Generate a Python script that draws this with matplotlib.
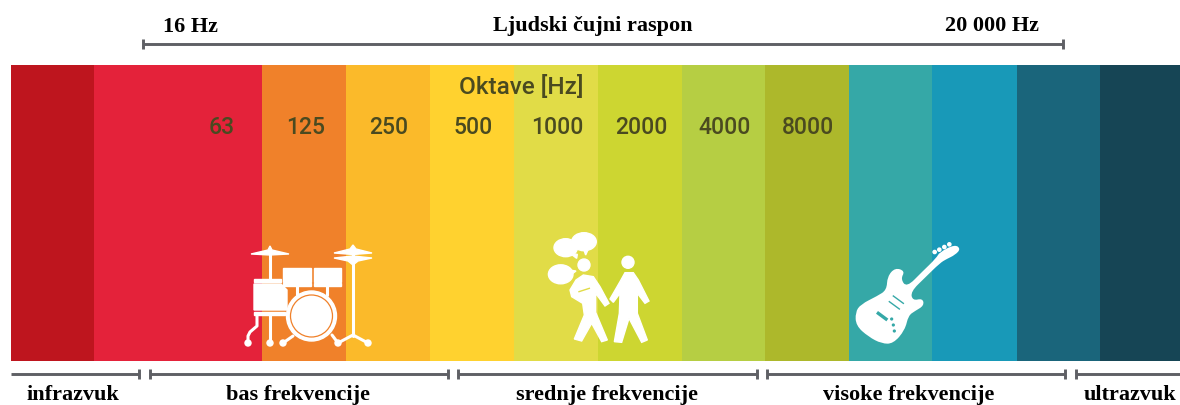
"""
plot.py

Frequency bands of sound, from infrasound to ultrasound.
"""

import matplotlib
matplotlib.use("Agg")
import matplotlib.pyplot as plt
from matplotlib.patches import Circle, Ellipse, PathPatch, Polygon, Rectangle
from matplotlib.path import Path

# edges of the coloured bands, in picture pixels
BAND_EDGES = [10.5, 94, 262, 345.5, 429.5, 514, 598, 681.5, 764.5, 848.5, 932, 1016.5, 1100, 1180]
BAND_COLORS = ["#BE151E", "#E4223A", "#F0812A", "#FBBA2A", "#FFD22F", "#E1DC47", "#CDD631",
               "#B6CE43", "#ADB82B", "#35A8A7", "#1899B8", "#1A657B", "#164555"]

OCTAVE_LABELS = ["63", "125", "250", "500", "1000", "2000", "4000", "8000"]
OCTAVE_X = [222, 306, 389, 473, 557, 641, 725, 808]

RANGE_NAMES = ["infrazvuk", "bas frekvencije", "srednje frekvencije", "visoke frekvencije", "ultrazvuk"]
RANGE_STARTS = [11, 150, 458, 767, 1076]
RANGE_ENDS = [139, 448, 757, 1065, 1180]
RANGE_TEXT_X = [73, 298, 607, 909, 1130]

GREY = "#5F6065"
SERIF = "Liberation Serif"
INK = "#4A4A20"


def hline(ax, x0, x1, y, left=True, right=True):
    ax.plot([x0, x1], [y, y], color=GREY, lw=2.1, solid_capstyle="butt")
    if left:
        ax.plot([x0, x0], [y - 5, y + 5], color=GREY, lw=2.1, solid_capstyle="butt")
    if right:
        ax.plot([x1, x1], [y - 5, y + 5], color=GREY, lw=2.1, solid_capstyle="butt")


def white_line(ax, xs, ys, lw=2.2):
    ax.plot(xs, ys, color="white", lw=lw, solid_capstyle="round", solid_joinstyle="round", zorder=4)


def draw_drums(ax):
    # cymbals
    ax.add_patch(Polygon([(251, 254), (268, 250), (270, 246), (272, 250), (289, 254), (270, 255)], color="white", zorder=4))
    ax.add_patch(Polygon([(334, 253), (350, 249), (353, 245), (356, 249), (372, 253), (353, 254.5)], color="white", zorder=4))
    ax.add_patch(Polygon([(334, 258), (353, 256), (372, 258), (358, 261), (353, 265), (348, 261)], color="white", zorder=4))
    white_line(ax, [270, 270], [250, 279])
    white_line(ax, [353, 353], [250, 336])
    white_line(ax, [338, 353, 368], [343, 335, 343])
    # floor tom
    ax.add_patch(Rectangle((254, 279), 27, 3, color="white", zorder=4))
    ax.add_patch(Polygon([(254, 284), (281, 284), (287, 290), (287, 310), (254, 310)], color="white", zorder=4))
    ax.add_patch(Rectangle((254, 311.5), 31, 3.5, color="white", zorder=4))
    # rack toms
    for x in [283, 313.5]:
        ax.add_patch(Rectangle((x, 268), 27.7, 13.5, color="white", zorder=4))
        ax.add_patch(Rectangle((x, 283), 27.7, 2.8, color="white", zorder=4))
    white_line(ax, [296.5, 296.5], [286, 295])
    white_line(ax, [326.5, 326.5], [286, 295])
    # bass drum
    ax.add_patch(Circle((311.5, 316), 25, color="white", zorder=4))
    ax.add_patch(Circle((311.5, 316), 21, fc="none", ec="#F0812A", lw=0.9, zorder=5))
    # legs and feet
    white_line(ax, [257, 257, 250, 248, 248], [315, 326, 332, 336, 343])
    white_line(ax, [270, 270], [315, 343])
    white_line(ax, [283, 293], [343, 336])
    white_line(ax, [338, 332], [343, 335])
    for x in [248, 270, 283, 338, 368]:
        ax.add_patch(Circle((x, 343), 3, color="white", zorder=4))


def zoom_xy(points, x0, y0):
    return [(x0 + px / 3, y0 + py / 3) for px, py in points]


def smooth_shape(points):
    # closed outline through the midpoints, the points act as bezier controls
    n = len(points)
    mids = [((points[i][0] + points[(i + 1) % n][0]) / 2, (points[i][1] + points[(i + 1) % n][1]) / 2)
            for i in range(n)]
    verts = [mids[-1]]
    codes = [Path.MOVETO]
    for i in range(n):
        verts += [points[i], mids[i]]
        codes += [Path.CURVE3, Path.CURVE3]
    return Path(verts, codes)


def draw_people(ax):
    x0, y0 = 530, 225
    for cx, cy, rx, ry in [(565.7, 247.7, 11.7, 9), (584, 241.7, 12.3, 9), (560.7, 274.3, 12.3, 9.5)]:
        ax.add_patch(Ellipse((cx, cy), 2 * rx, 2 * ry, color="white", zorder=4))
    for tail in [[(120, 85), (142, 88), (140, 100)], [(160, 70), (175, 72), (167, 90)], [(118, 135), (138, 138), (122, 150)]]:
        ax.add_patch(Polygon(zoom_xy(tail, x0, y0), color="white", zorder=4))
    ax.add_patch(Circle((584, 265), 6, color="white", zorder=4))
    ax.add_patch(Circle((628, 262.3), 6, color="white", zorder=4))
    left = [(160, 150), (190, 155), (210, 185), (237, 235), (225, 243), (197, 205), (197, 262), (232, 345),
            (215, 350), (185, 295), (155, 348), (133, 342), (163, 270), (158, 235), (125, 215), (120, 195), (138, 165)]
    right = [(285, 143), (310, 143), (325, 165), (357, 228), (345, 235), (322, 205), (322, 265), (352, 345),
             (335, 352), (297, 280), (275, 352), (253, 350), (268, 265), (270, 205), (250, 232), (240, 222), (270, 170)]
    ax.add_patch(Polygon(zoom_xy(left, x0, y0), color="white", zorder=4))
    ax.add_patch(Polygon(zoom_xy(right, x0, y0), color="white", zorder=4))
    arm = zoom_xy([(147, 200), (178, 190)], x0, y0)
    ax.plot([arm[0][0], arm[1][0]], [arm[0][1], arm[1][1]], color="#E1DC47", lw=1, zorder=5)


def draw_guitar(ax):
    x0, y0 = 840, 235
    body = [(46, 232), (62, 208), (112, 183), (140, 165), (142, 125), (165, 98), (195, 108), (182, 132), (200, 157),
            (245, 112), (245, 112), (290, 68), (298, 52), (345, 28), (362, 42), (345, 60), (320, 72), (300, 84),
            (256, 127), (256, 127), (212, 170), (218, 197), (248, 190), (252, 212), (225, 228), (205, 242),
            (195, 285), (160, 326), (125, 326), (85, 305), (48, 272)]
    ax.add_patch(PathPatch(smooth_shape(zoom_xy(body, x0, y0)), fc="white", ec="none", zorder=4))
    for px, py in [(284, 51), (298, 44), (313, 36), (328, 28)]:
        x, y = zoom_xy([(px, py)], x0, y0)[0]
        ax.add_patch(Circle((x, y), 1.6, color="white", zorder=4))
    for pts in [[(148, 200), (178, 222)], [(160, 183), (190, 205)], [(115, 235), (138, 252)]]:
        (xa, ya), (xb, yb) = zoom_xy(pts, x0, y0)
        ax.plot([xa, xb], [ya, yb], color="#35A8A7", lw=1.0 if pts[0][0] > 120 else 2.4, zorder=5)
    for px, py in [(155, 252), (160, 270), (163, 288)]:
        x, y = zoom_xy([(px, py)], x0, y0)[0]
        ax.add_patch(Circle((x, y), 0.9, color="#35A8A7", zorder=5))


fig = plt.figure(figsize=(11.8, 4.05), dpi=100)
ax = fig.add_axes([0, 0, 1, 1])
ax.set_xlim(0, 1180)
ax.set_ylim(405, 0)
ax.axis("off")

for left, right, color in zip(BAND_EDGES[:-1], BAND_EDGES[1:], BAND_COLORS):
    ax.bar(left, 296, width=right - left, bottom=65, align="edge", color=color, lw=0)

for x, label in zip(OCTAVE_X, OCTAVE_LABELS):
    ax.text(x, 128, label, ha="center", va="center", family="Roboto", weight="medium", fontsize=16.5, color=INK, zorder=3)
ax.text(521, 87, "Oktave [Hz]", ha="center", va="center", family="Roboto", weight="medium", fontsize=17.5, color=INK, zorder=3)

# top range
hline(ax, 143, 1063, 44)
ax.text(190, 27, "16 Hz", ha="center", va="center", family=SERIF, weight="bold", fontsize=16, color="black")
ax.text(593, 26, "Ljudski čujni raspon", ha="center", va="center", family=SERIF, weight="bold", fontsize=16, color="black")
ax.text(992, 26, "20 000 Hz", ha="center", va="center", family=SERIF, weight="bold", fontsize=16, color="black")

# bottom ranges
for i, (start, end, name, tx) in enumerate(zip(RANGE_STARTS, RANGE_ENDS, RANGE_NAMES, RANGE_TEXT_X)):
    hline(ax, start, end, 373.5, left=i > 0, right=i < len(RANGE_NAMES) - 1)
    ax.text(tx, 395, name, ha="center", va="center", family=SERIF, weight="bold", fontsize=16, color="black")

draw_drums(ax)
draw_people(ax)
draw_guitar(ax)

fig.savefig("out.png", dpi=100)
